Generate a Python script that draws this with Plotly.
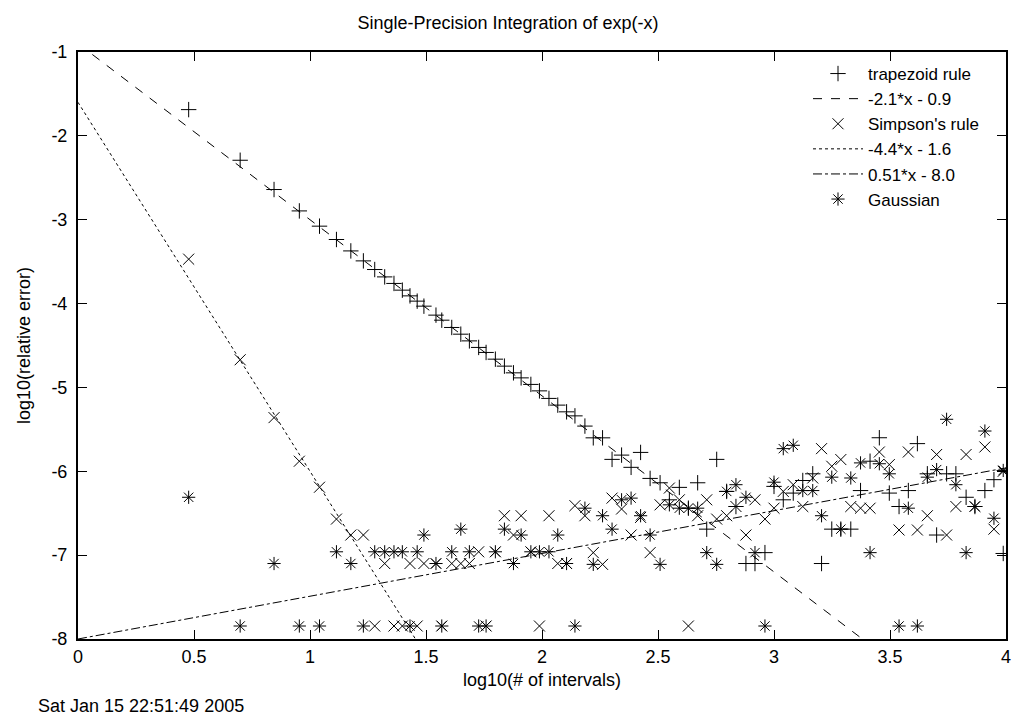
import plotly.graph_objects as go

# log10(# of intervals) at which the three rules were evaluated
log_n = [0.477, 0.699, 0.845, 0.954, 1.041, 1.114, 1.176, 1.230, 1.279, 1.322,
         1.362, 1.398, 1.431, 1.462, 1.491, 1.543, 1.568, 1.611, 1.650, 1.687,
         1.727, 1.759, 1.799, 1.838, 1.877, 1.910, 1.952, 1.989, 2.030, 2.068,
         2.106, 2.142, 2.185, 2.221, 2.261, 2.302, 2.343, 2.384, 2.425, 2.466,
         2.509, 2.549, 2.592, 2.631, 2.671, 2.710, 2.753, 2.796, 2.836, 2.879,
         2.918, 2.961, 3.000, 3.040, 3.083, 3.124, 3.167, 3.205, 3.249, 3.288,
         3.331, 3.373, 3.414, 3.454, 3.497, 3.539, 3.579, 3.618, 3.661, 3.701,
         3.744, 3.784, 3.828, 3.866, 3.909, 3.948, 3.988]

# log10(relative error), trapezoid rule
trapezoid = [-1.687, -2.291, -2.640, -2.895, -3.077, -3.236, -3.372, -3.491, -3.594, -3.682,
             -3.760, -3.840, -3.908, -3.971, -4.031, -4.138, -4.198, -4.285, -4.365, -4.445,
             -4.523, -4.583, -4.663, -4.746, -4.826, -4.886, -4.964, -5.041, -5.131, -5.211,
             -5.291, -5.339, -5.461, -5.601, -5.601, -5.858, -5.807, -5.953, -5.775, -6.085,
             -6.137, -6.34, -6.192, -6.44, -6.137, -6.69, -5.858, -6.24, -6.42, -7.10,
             -7.10, -6.97, -6.18, -6.34, -6.26, -6.11, -6.03, -7.10, -6.69, -6.69,
             -6.69, -6.23, -5.88, -5.60, -6.26, -6.42, -6.23, -5.67, -6.03, -6.76,
             -6.03, -6.03, -6.31, -6.42, -6.23, -6.10, -6.98]

# log10(relative error), Simpson's rule
simpson = [-3.47, -4.67, -5.36, -5.88, -6.19, -6.57, -6.76, -6.76, -7.845, -7.10,
           -7.845, -7.845, -7.10, -7.845, -7.10, -7.10, -7.845, -7.10, -7.10, -7.10,
           -6.96, -7.845, -6.96, -6.53, -6.76, -6.53, -6.96, -7.845, -6.53, -7.10,
           -7.10, -6.41, -6.53, -6.97, -7.11, -6.32, -6.45, -6.76, -6.55, -6.97,
           -6.40, -6.20, -6.34, -7.845, -6.53, -6.34, -6.57, -6.53, -6.42, -6.76,
           -6.34, -6.57, -6.44, -6.24, -6.16, -6.42, -6.08, -5.73, -5.94, -5.86,
           -6.42, -6.44, -6.44, -5.77, -5.92, -6.70, -5.77, -6.70, -6.53, -5.80,
           -6.76, -6.42, -5.80, -6.42, -5.71, -6.69, -6.00]

# log10(relative error), Gaussian quadrature
gaussian = [-6.31, -7.845, -7.10, -7.845, -7.845, -6.96, -7.10, -7.845, -6.96, -6.96,
            -6.96, -6.96, -7.845, -6.96, -6.76, -7.10, -7.845, -6.96, -6.69, -6.96,
            -7.845, -7.845, -6.96, -6.69, -7.10, -6.76, -6.96, -6.96, -6.96, -6.76,
            -7.10, -7.845, -6.44, -7.11, -6.53, -6.69, -6.34, -6.32, -6.53, -6.76,
            -7.11, -6.40, -6.44, -6.44, -6.44, -6.97, -7.11, -6.24, -6.16, -6.31,
            -6.97, -7.845, -6.13, -5.73, -5.69, -6.23, -6.23, -6.53, -6.07, -6.69,
            -6.08, -5.90, -6.97, -5.91, -6.03, -7.845, -6.44, -7.845, -6.07, -5.98,
            -5.38, -6.16, -6.97, -6.42, -5.52, -6.56, -5.99]

# fitted straight lines y = slope*x + intercept
fit_labels = ["-2.1*x - 0.9", "-4.4*x - 1.6", "0.51*x - 8.0"]
fit_slopes = [-2.1, -4.4, 0.51]
fit_intercepts = [-0.9, -1.6, -8.0]
fit_dashes = ["dash", "dot", "dashdot"]
fit_x_span = [0.0, 4.0]

x_ticks = [0, 0.5, 1, 1.5, 2, 2.5, 3, 3.5, 4]
x_tick_text = ["0", "0.5", "1", "1.5", "2", "2.5", "3", "3.5", "4"]
y_ticks = [-8, -7, -6, -5, -4, -3, -2, -1]
y_tick_text = ["-8", "-7", "-6", "-5", "-4", "-3", "-2", "-1"]

FONT = "Liberation Sans, Arial, sans-serif"
FS = 18
W, H = 1013, 719
ML, MR, MT, MB = 78, 7, 52, 80
PW, PH = W - ML - MR, H - MT - MB

def fit_trace(i):
    xs = fit_x_span
    ys = [fit_slopes[i] * v + fit_intercepts[i] for v in xs]
    return go.Scatter(x=xs, y=ys, mode="lines", name=fit_labels[i],
                      line=dict(color="black", width=1, dash=fit_dashes[i]),
                      hoverinfo="skip")

def marker_trace(ys, name, symbol):
    return go.Scatter(x=log_n, y=ys, mode="markers", name=name,
                      marker=dict(symbol=symbol, size=11, color="black",
                                  line=dict(color="black", width=1)))

fig = go.Figure()
fig.add_trace(marker_trace(trapezoid, "trapezoid rule", "cross-thin"))
fig.add_trace(fit_trace(0))
fig.add_trace(marker_trace(simpson, "Simpson's rule", "x-thin"))
fig.add_trace(fit_trace(1))
fig.add_trace(fit_trace(2))
fig.add_trace(marker_trace(gaussian, "Gaussian", "asterisk-open"))

axis_common = dict(showline=True, linecolor="black", linewidth=2, mirror="allticks",
                   ticks="inside", ticklen=9, tickwidth=1, tickcolor="black",
                   showgrid=False, zeroline=False, automargin=False,
                   tickfont=dict(family=FONT, size=FS, color="black"))

fig.update_layout(
    width=W, height=H,
    margin=dict(l=ML, r=MR, t=MT, b=MB, autoexpand=False),
    paper_bgcolor="white", plot_bgcolor="white",
    font=dict(family=FONT, size=FS, color="black"),
    title=dict(text="Single-Precision Integration of exp(-x)", x=508 / W, xanchor="center",
               y=1 - 23 / H, yanchor="middle",
               font=dict(family=FONT, size=FS, color="black")),
    xaxis=dict(range=[0, 4], tickvals=x_ticks, ticktext=x_tick_text,
               ticklabeloverflow="allow",
               title=dict(text="log10(# of intervals)", standoff=8,
                          font=dict(family=FONT, size=FS, color="black")),
               **axis_common),
    yaxis=dict(range=[-8, -1], tickvals=y_ticks, ticktext=y_tick_text,
               ticklabelstandoff=5,
               title=dict(text="log10(relative error)", standoff=16,
                          font=dict(family=FONT, size=FS, color="black")),
               **axis_common),
    legend=dict(x=(984 - ML) / PW, y=1 - (56 - MT) / PH, xanchor="right", yanchor="top",
                bgcolor="rgba(255,255,255,0)", borderwidth=0,
                font=dict(family=FONT, size=17, color="black"),
                tracegroupgap=0, itemwidth=50),
    showlegend=True,
    annotations=[dict(text="Sat Jan 15 22:51:49 2005", xref="paper", yref="paper",
                      x=-(ML - 36) / PW, y=-(706 - (H - MB)) / PH, xanchor="left",
                      yanchor="middle", showarrow=False,
                      font=dict(family=FONT, size=FS, color="black"))],
)

fig.write_html("out.html",
               config={"displayModeBar": False},
               post_script="document.body.style.margin='0';"
                           "document.body.style.overflow='hidden';")
